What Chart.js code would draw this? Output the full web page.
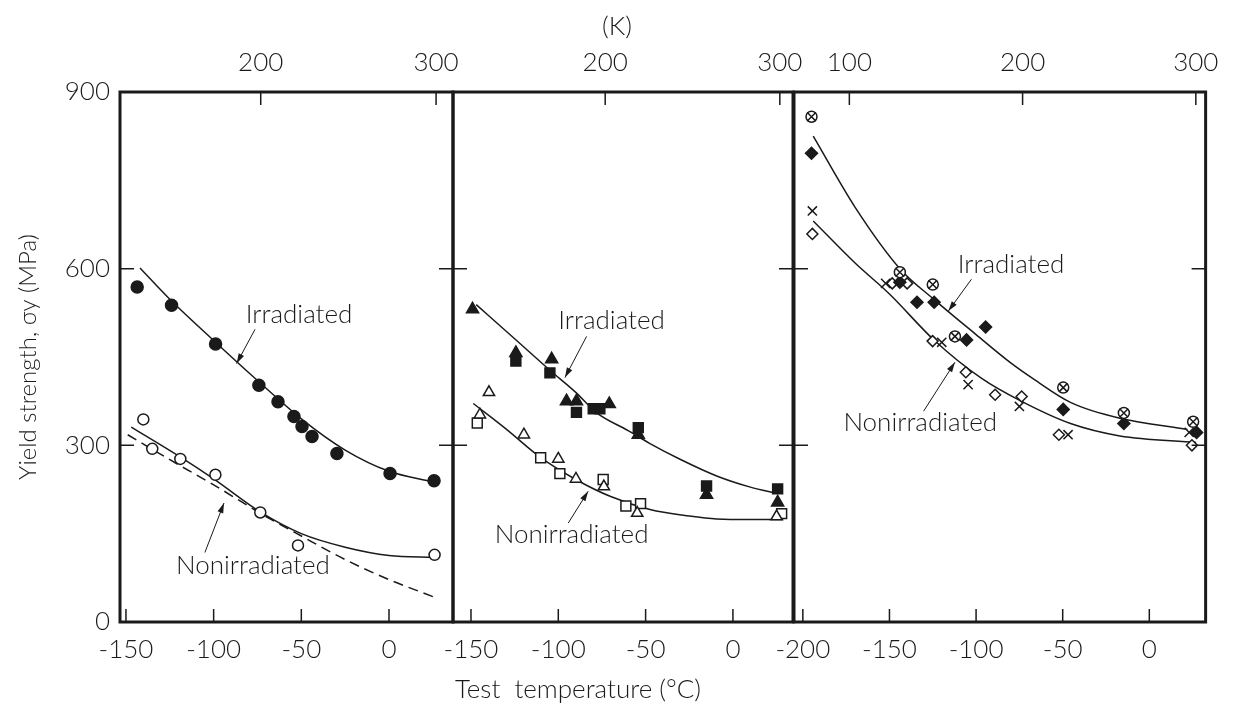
<!DOCTYPE html>
<html>
<head>
<meta charset="utf-8">
<script src="https://cdn.jsdelivr.net/npm/chart.js@4/dist/chart.umd.min.js"></script>
<style>
  html, body { margin: 0; padding: 0; background: #fff; }
  #wrap { position: relative; width: 1233px; height: 705px; }
  #wrap canvas { position: absolute; left: 0; top: 0; }
</style>
</head>
<body>
<div id="wrap">
  <canvas id="p1" width="1233" height="705"></canvas>
  <canvas id="p2" width="1233" height="705"></canvas>
  <canvas id="p3" width="1233" height="705"></canvas>
</div>
<script>
const ink = "#1a1a1a";
const family = '"Lato", "DejaVu Sans", sans-serif';
const kOffset = 273.15;

// shared axis values
const yTicks = [0, 300, 600, 900];

// panel 1 (left)
const p1Range = [-153.4, 36.5];
const p1CTicks = [-150, -100, -50, 0];
const p1KTicks = [200, 300];
const p1IrrT = [-143.6, -124, -98.9, -74.2, -63.3, -54.2, -49.6, -43.9, -29.7, 0.6, 25.7];
const p1IrrY = [569, 538, 472, 402, 374, 349, 332, 315, 286, 252, 240];
const p1NonT = [-140.1, -135, -119, -99, -73.4, -51.9, 26];
const p1NonY = [344, 294, 277, 250, 186, 130, 114];
const p1IrrFitT = [-142, -125, -100, -75, -50, -25, 0, 25];
const p1IrrFitY = [601, 548, 478, 410, 345, 292, 256, 238];
const p1NonFitT = [-147, -120, -100, -73, -50, -25, 0, 26];
const p1NonFitY = [331, 282, 243, 186, 150, 127, 113, 110];
const p1DashT = [-149, -120, -100, -73, -50, -25, 0, 26];
const p1DashY = [318, 267, 233, 184, 146, 106, 72, 42];

// panel 2 (middle)
const p2Range = [-160.3, 34.4];
const p2CTicks = [-150, -100, -50, 0];
const p2KTicks = [200, 300];
const p2IrrTriT = [-149.1, -124.3, -103.8, -95.3, -89.6, -70.8, -54.2, -15.1, 25.6];
const p2IrrTriY = [531, 457, 446, 375, 375, 370, 318, 216, 203];
const p2IrrSqT = [-124.3, -104.8, -89.6, -80, -76.2, -54.2, -15.1, 25.6];
const p2IrrSqY = [443, 423, 356, 362, 362, 330, 231, 226];
const p2NonTriT = [-139.7, -144.9, -119.7, -100, -89.9, -73.9, -54.8, 25];
const p2NonTriY = [390, 352, 318, 277, 243, 230, 185, 179];
const p2NonSqT = [-146.4, -110.1, -99.1, -74.3, -61.3, -52.9, 27.9];
const p2NonSqY = [338, 279, 252, 242, 197, 201, 184];
const p2IrrFitT = [-147, -125, -105, -90, -78, -60, -47.5, -30, -9.3, 10, 25.6];
const p2IrrFitY = [539, 481, 428, 390, 355, 325, 303, 276, 248, 229, 218];
const p2NonFitT = [-148.7, -130, -110, -90, -70, -47.5, -25, -9.3, 10, 28.8];
const p2NonFitY = [371, 328, 279, 242, 213, 191, 180, 175, 174, 174];

// panel 3 (right)
const p3Range = [-205.1, 32.5];
const p3CTicks = [-200, -150, -100, -50, 0];
const p3KTicks = [100, 200, 300];
const p3IrrCxT = [-195, -144, -125, -112.2, -49.7, -14.7, 25.3];
const p3IrrCxY = [858, 594, 573, 485, 398, 355, 340];
const p3IrrDiT = [-195, -144, -134.1, -124.2, -105.5, -94.5, -49.7, -14.7, 27.3];
const p3IrrDiY = [796, 577, 543, 543, 479, 501, 361, 337, 322];
const p3NonXT = [-194.5, -152.2, -119.8, -104.6, -75, -46.9, 23];
const p3NonXY = [698, 575, 475, 403, 366, 318, 322];
const p3NonDiT = [-194.5, -148.4, -139.8, -125.1, -105.9, -89, -73.7, -52.2, 24.6];
const p3NonDiY = [659, 575, 575, 477, 424, 386, 383, 318, 300];
const p3IrrFitT = [-194, -170, -144, -124, -100, -80, -66.5, -45.5, -17, 22];
const p3IrrFitY = [825, 705, 600, 547, 488, 440, 412, 373, 346, 327];
const p3NonFitT = [-194, -170, -150, -124, -97, -74, -45.5, -17, 27];
const p3NonFitY = [681, 610, 557, 478, 414, 375, 337, 316, 305];

Chart.defaults.font.family = family;
Chart.defaults.font.weight = 300;
Chart.defaults.color = ink;

function pts(xs, ys) {
  return xs.map((x, i) => ({ x: x, y: ys[i] }));
}

function marks(xs, ys, style, filled, r) {
  return {
    data: pts(xs, ys),
    showLine: false,
    pointStyle: style,
    pointRadius: r,
    pointBorderWidth: 1.5,
    borderColor: ink,
    backgroundColor: filled ? ink : "#fff"
  };
}

function curve(xs, ys, dash) {
  return {
    data: pts(xs, ys),
    showLine: true,
    pointRadius: 0,
    borderColor: ink,
    borderWidth: 1.5,
    borderDash: dash || [],
    cubicInterpolationMode: "monotone",
    fill: false
  };
}

function arrow(ctx, x1, y1, x2, y2) {
  ctx.lineWidth = 1;
  ctx.beginPath();
  ctx.moveTo(x1, y1);
  ctx.lineTo(x2, y2);
  ctx.stroke();
  const a = Math.atan2(y2 - y1, x2 - x1);
  ctx.beginPath();
  ctx.moveTo(x2, y2);
  ctx.lineTo(x2 - 10 * Math.cos(a) + 3 * Math.sin(a), y2 - 10 * Math.sin(a) - 3 * Math.cos(a));
  ctx.lineTo(x2 - 10 * Math.cos(a) - 3 * Math.sin(a), y2 - 10 * Math.sin(a) + 3 * Math.cos(a));
  ctx.closePath();
  ctx.fill();
}

// frame, inward tick marks and curve labels
const panelDeco = {
  id: "panelDeco",
  afterDatasetsDraw(chart, args, o) {
    const { ctx, chartArea: a, scales: s } = chart;
    ctx.save();
    ctx.strokeStyle = ink;
    ctx.fillStyle = ink;
    ctx.lineWidth = 1.5;
    ctx.beginPath();
    o.cTicks.forEach(v => {
      const x = s.x.getPixelForValue(v);
      ctx.moveTo(x, a.bottom); ctx.lineTo(x, a.bottom - 13);
    });
    o.kTicks.forEach(v => {
      const x = s.k.getPixelForValue(v);
      ctx.moveTo(x, a.top); ctx.lineTo(x, a.top + 13);
    });
    yTicks.slice(1, -1).forEach(v => {
      const y = s.y.getPixelForValue(v);
      ctx.moveTo(a.left, y); ctx.lineTo(a.left + 14, y);
      ctx.moveTo(a.right, y); ctx.lineTo(a.right - 14, y);
    });
    ctx.stroke();
    ctx.lineWidth = 3;
    ctx.strokeRect(a.left, a.top, a.width, a.height);

    ctx.font = "300 26px " + family;
    ctx.textAlign = "center";
    ctx.textBaseline = "middle";
    o.notes.forEach(n => {
      ctx.fillText(n.text, s.x.getPixelForValue(n.at[0]), s.y.getPixelForValue(n.at[1]));
      arrow(ctx,
        s.x.getPixelForValue(n.from[0]), s.y.getPixelForValue(n.from[1]),
        s.x.getPixelForValue(n.to[0]), s.y.getPixelForValue(n.to[1]));
    });
    ctx.restore();
  }
};

// shared captions, drawn once on the first panel
const captions = {
  id: "captions",
  afterDraw(chart) {
    const ctx = chart.ctx;
    ctx.save();
    ctx.fillStyle = ink;
    ctx.textAlign = "center";
    ctx.textBaseline = "middle";
    ctx.font = "300 26px " + family;
    ctx.fillText("(K)", 617, 27);
    ctx.fillText("Test  temperature (°C)", 578, 690);
    ctx.restore();
  }
};

function makePanel(id, p) {
  return new Chart(document.getElementById(id), {
    type: "scatter",
    data: { datasets: p.datasets },
    options: {
      responsive: false,
      animation: false,
      events: [],
      layout: { padding: { left: p.padLeft, right: p.padRight, top: 52, bottom: 33 } },
      plugins: {
        legend: { display: false },
        tooltip: { enabled: false },
        panelDeco: { cTicks: p.cTicks, kTicks: p.kTicks, notes: p.notes }
      },
      scales: {
        x: {
          type: "linear",
          position: "bottom",
          min: p.range[0],
          max: p.range[1],
          afterBuildTicks: s => { s.ticks = p.cTicks.map(v => ({ value: v })); },
          afterFit: s => { s.height = 50; },
          grid: { display: false, drawTicks: false },
          border: { display: false },
          ticks: { autoSkip: false, maxRotation: 0, padding: 12, font: { size: 26 }, callback: v => String(v) }
        },
        k: {
          type: "linear",
          axis: "x",
          position: "top",
          min: p.range[0] + kOffset,
          max: p.range[1] + kOffset,
          afterBuildTicks: s => { s.ticks = p.kTicks.map(v => ({ value: v })); },
          afterFit: s => { s.height = 40; },
          grid: { display: false, drawTicks: false },
          border: { display: false },
          ticks: { autoSkip: false, maxRotation: 0, padding: 14, font: { size: 26 }, callback: v => String(Math.round(v)) }
        },
        y: {
          min: 0,
          max: 900,
          display: p.showY,
          afterBuildTicks: s => { s.ticks = yTicks.map(v => ({ value: v })); },
          afterFit: s => { s.width = p.showY ? 120 : 0; },
          grid: { display: false, drawTicks: false },
          border: { display: false },
          ticks: { padding: 10, font: { size: 26 }, callback: v => String(v) },
          title: {
            display: true,
            text: "Yield strength, σy (MPa)",
            font: { size: 24 },
            padding: { top: 14, bottom: 0 }
          }
        }
      }
    },
    plugins: p.extra ? [panelDeco, p.extra] : [panelDeco]
  });
}

makePanel("p1", {
  range: p1Range, cTicks: p1CTicks, kTicks: p1KTicks,
  padLeft: 0, padRight: 780, showY: true, extra: captions,
  notes: [
    { text: "Irradiated", at: [-51.3, 522], from: [-76.4, 497], to: [-86.9, 439] },
    { text: "Nonirradiated", at: [-77.6, 95], from: [-105, 118], to: [-94.1, 202] }
  ],
  datasets: [
    marks(p1IrrT, p1IrrY, "circle", true, 6),
    marks(p1NonT, p1NonY, "circle", false, 5.5),
    curve(p1IrrFitT, p1IrrFitY),
    curve(p1NonFitT, p1NonFitY),
    curve(p1DashT, p1DashY, [10, 6])
  ]
});

makePanel("p2", {
  range: p2Range, cTicks: p2CTicks, kTicks: p2KTicks,
  padLeft: 453, padRight: 440, showY: false,
  notes: [
    { text: "Irradiated", at: [-69.5, 511], from: [-83.8, 485], to: [-96.2, 415] },
    { text: "Nonirradiated", at: [-92.4, 149], from: [-94.3, 168], to: [-82.9, 222] }
  ],
  datasets: [
    marks(p2IrrTriT, p2IrrTriY, "triangle", true, 7),
    marks(p2IrrSqT, p2IrrSqY, "rect", true, 7),
    marks(p2NonTriT, p2NonTriY, "triangle", false, 6.5),
    marks(p2NonSqT, p2NonSqY, "rect", false, 7),
    curve(p2IrrFitT, p2IrrFitY),
    curve(p2NonFitT, p2NonFitY)
  ]
});

makePanel("p3", {
  range: p3Range, cTicks: p3CTicks, kTicks: p3KTicks,
  padLeft: 794, padRight: 23, showY: false,
  notes: [
    { text: "Irradiated", at: [-79.8, 607], from: [-102.7, 582], to: [-116, 528] },
    { text: "Nonirradiated", at: [-132.2, 338], from: [-130.3, 358], to: [-112.2, 441] }
  ],
  datasets: [
    marks(p3IrrCxT, p3IrrCxY, "crossRot", false, 6),
    marks(p3IrrCxT, p3IrrCxY, "circle", false, 5.5),
    marks(p3IrrDiT, p3IrrDiY, "rectRot", true, 6),
    marks(p3NonXT, p3NonXY, "crossRot", false, 6.5),
    marks(p3NonDiT, p3NonDiY, "rectRot", false, 5.5),
    curve(p3IrrFitT, p3IrrFitY),
    curve(p3NonFitT, p3NonFitY)
  ]
});
</script>
</body>
</html>
